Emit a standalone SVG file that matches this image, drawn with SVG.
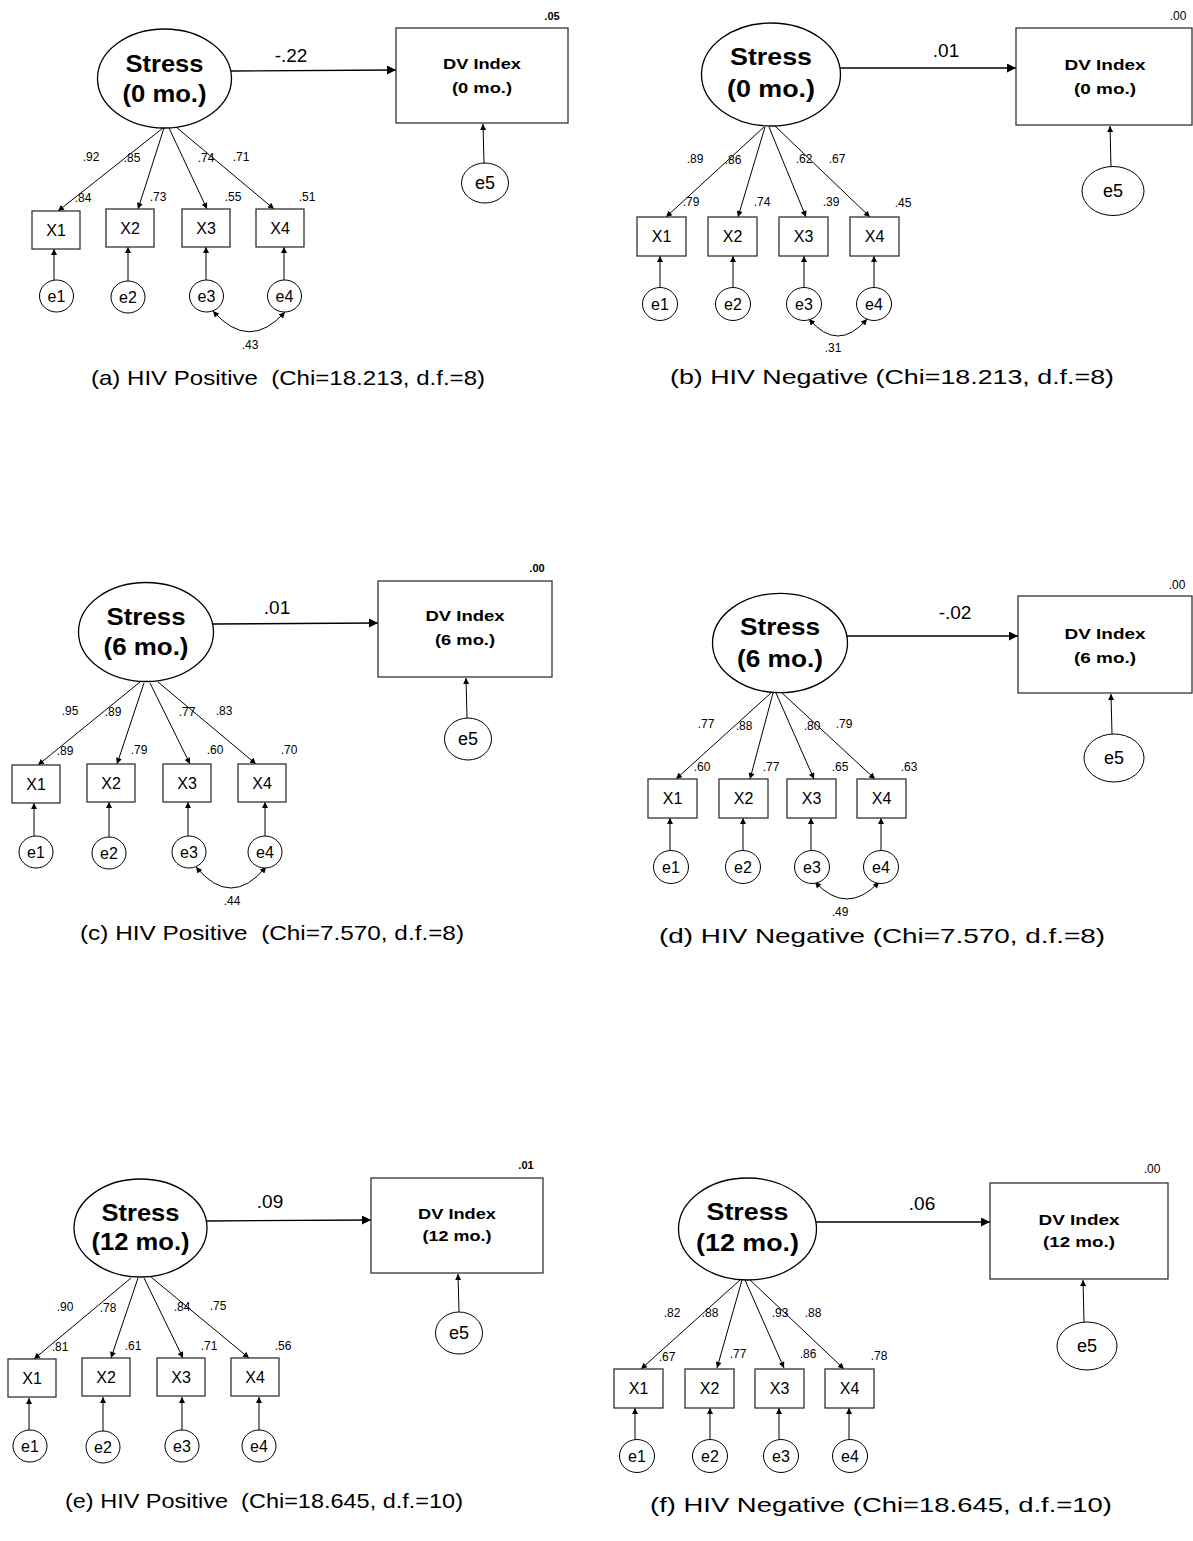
<svg xmlns="http://www.w3.org/2000/svg" width="1193" height="1541" viewBox="0 0 1193 1541">
<style>
text{font-family:"Liberation Sans",Arial,sans-serif;fill:#000;text-anchor:middle}
.st{font-size:23px;font-weight:bold}
.dv{font-size:15px;font-weight:bold}
.v{font-size:16px}
.e5{font-size:18px}
.s{font-size:12px}
.sb{font-size:11px;font-weight:bold}
.p{font-size:19px}
.cap{font-size:21px}
.lat{fill:#fff;stroke:#000;stroke-width:1.3}
.box{fill:#fff;stroke:#333;stroke-width:1.3}
.err{fill:#fff;stroke:#000;stroke-width:1}
.c line,.c path{stroke:#000;stroke-width:1;fill:none}
.c line.m{stroke-width:1.3}
</style>
<defs>
<marker id="a" viewBox="0 0 10 10" refX="10" refY="5" markerWidth="8" markerHeight="6" markerUnits="userSpaceOnUse" orient="auto-start-reverse"><path d="M0,0L10,5L0,10z" fill="#000" stroke="none"/></marker>
<marker id="A" viewBox="0 0 10 10" refX="10" refY="5" markerWidth="13" markerHeight="9" markerUnits="userSpaceOnUse" orient="auto"><path d="M0,0L10,5L0,10z" fill="#000" stroke="none"/></marker>
</defs>

<!-- ===== Panel (a) ===== -->
<g id="a-connectors" class="c">
<line class="m" x1="231" y1="71" x2="396" y2="70" marker-end="url(#A)"/>
<line x1="484" y1="163" x2="483" y2="124" marker-end="url(#a)"/>
<line x1="163" y1="128" x2="58" y2="211" marker-end="url(#a)"/>
<line x1="164" y1="128" x2="138" y2="209" marker-end="url(#a)"/>
<line x1="169" y1="128" x2="207" y2="209" marker-end="url(#a)"/>
<line x1="176" y1="127" x2="274" y2="209" marker-end="url(#a)"/>
<line x1="54" y1="280" x2="54" y2="249" marker-end="url(#a)"/>
<line x1="128" y1="281" x2="128" y2="247" marker-end="url(#a)"/>
<line x1="206" y1="280" x2="206" y2="247" marker-end="url(#a)"/>
<line x1="284" y1="280" x2="284" y2="247" marker-end="url(#a)"/>
<path d="M213,311 Q249,352 285,312" marker-start="url(#a)" marker-end="url(#a)"/>
</g>
<g id="a-labels">
<text class="p" x="291" y="62">-.22</text>
<text class="sb" x="552" y="20">.05</text>
<text class="s" x="91" y="161">.92</text>
<text class="s" x="132" y="162">.85</text>
<text class="s" x="206" y="162">.74</text>
<text class="s" x="241" y="161">.71</text>
<text class="s" x="83" y="202">.84</text>
<text class="s" x="158" y="201">.73</text>
<text class="s" x="233" y="201">.55</text>
<text class="s" x="307" y="201">.51</text>
<text class="s" x="250" y="349">.43</text>
<text class="cap" x="288" y="385" textLength="394" lengthAdjust="spacingAndGlyphs" xml:space="preserve">(a) HIV Positive  (Chi=18.213, d.f.=8)</text>
</g>
<g id="a-stress"><ellipse class="lat" cx="164.5" cy="78.5" rx="67" ry="49.5"/>
<text class="st" x="164.5" y="72" textLength="78" lengthAdjust="spacingAndGlyphs">Stress</text>
<text class="st" x="164.5" y="102" textLength="84" lengthAdjust="spacingAndGlyphs">(0 mo.)</text></g>
<g id="a-dv"><rect class="box" x="396" y="28" width="172" height="95"/>
<text class="dv" x="482" y="69" textLength="78" lengthAdjust="spacingAndGlyphs">DV Index</text>
<text class="dv" x="482" y="93" textLength="60" lengthAdjust="spacingAndGlyphs">(0 mo.)</text></g>
<g id="a-e5"><ellipse class="err" cx="485" cy="183" rx="23.5" ry="20"/><text class="e5" x="485" y="189">e5</text></g>
<g id="a-x1"><rect class="box" x="32" y="211" width="48" height="38"/><text class="v" x="56" y="236">X1</text></g>
<g id="a-x2"><rect class="box" x="106" y="209" width="48" height="38"/><text class="v" x="130" y="234">X2</text></g>
<g id="a-x3"><rect class="box" x="182" y="209" width="48" height="38"/><text class="v" x="206" y="234">X3</text></g>
<g id="a-x4"><rect class="box" x="256" y="209" width="48" height="38"/><text class="v" x="280" y="234">X4</text></g>
<g id="a-e1"><ellipse class="err" cx="56.5" cy="296" rx="17" ry="16"/><text class="v" x="56.5" y="302">e1</text></g>
<g id="a-e2"><ellipse class="err" cx="128" cy="297" rx="17" ry="16"/><text class="v" x="128" y="303">e2</text></g>
<g id="a-e3"><ellipse class="err" cx="206.5" cy="296" rx="17" ry="16"/><text class="v" x="206.5" y="302">e3</text></g>
<g id="a-e4"><ellipse class="err" cx="284.5" cy="296" rx="17" ry="16"/><text class="v" x="284.5" y="302">e4</text></g>

<!-- ===== Panel (b) ===== -->
<g id="b-connectors" class="c">
<line class="m" x1="840" y1="68" x2="1016" y2="68" marker-end="url(#A)"/>
<line x1="1111" y1="167" x2="1110" y2="126" marker-end="url(#a)"/>
<line x1="764" y1="127" x2="666" y2="217" marker-end="url(#a)"/>
<line x1="765" y1="127" x2="738" y2="217" marker-end="url(#a)"/>
<line x1="769" y1="127" x2="806" y2="217" marker-end="url(#a)"/>
<line x1="775" y1="126" x2="870" y2="217" marker-end="url(#a)"/>
<line x1="660" y1="288" x2="660" y2="256" marker-end="url(#a)"/>
<line x1="733" y1="288" x2="733" y2="256" marker-end="url(#a)"/>
<line x1="804" y1="288" x2="804" y2="256" marker-end="url(#a)"/>
<line x1="874" y1="288" x2="874" y2="256" marker-end="url(#a)"/>
<path d="M809,319 Q838,353 867,319" marker-start="url(#a)" marker-end="url(#a)"/>
</g>
<g id="b-labels">
<text class="p" x="946" y="57">.01</text>
<text class="s" x="1178" y="20">.00</text>
<text class="s" x="695" y="163">.89</text>
<text class="s" x="733" y="164">.86</text>
<text class="s" x="804" y="163">.62</text>
<text class="s" x="837" y="163">.67</text>
<text class="s" x="691" y="206">.79</text>
<text class="s" x="762" y="206">.74</text>
<text class="s" x="831" y="206">.39</text>
<text class="s" x="903" y="207">.45</text>
<text class="s" x="833" y="352">.31</text>
<text class="cap" x="892" y="384" textLength="444" lengthAdjust="spacingAndGlyphs">(b) HIV Negative (Chi=18.213, d.f.=8)</text>
</g>
<g id="b-stress"><ellipse class="lat" cx="771" cy="74.5" rx="69.5" ry="51.5"/>
<text class="st" x="771" y="65" textLength="82" lengthAdjust="spacingAndGlyphs">Stress</text>
<text class="st" x="771" y="97" textLength="88" lengthAdjust="spacingAndGlyphs">(0 mo.)</text></g>
<g id="b-dv"><rect class="box" x="1016" y="28" width="176" height="97"/>
<text class="dv" x="1105" y="70" textLength="81" lengthAdjust="spacingAndGlyphs">DV Index</text>
<text class="dv" x="1105" y="94" textLength="62" lengthAdjust="spacingAndGlyphs">(0 mo.)</text></g>
<g id="b-e5"><ellipse class="err" cx="1113" cy="191" rx="31" ry="24.5"/><text class="e5" x="1113" y="197">e5</text></g>
<g id="b-x1"><rect class="box" x="637" y="217" width="49" height="39"/><text class="v" x="661.5" y="242">X1</text></g>
<g id="b-x2"><rect class="box" x="708" y="217" width="49" height="39"/><text class="v" x="732.5" y="242">X2</text></g>
<g id="b-x3"><rect class="box" x="779" y="217" width="49" height="39"/><text class="v" x="803.5" y="242">X3</text></g>
<g id="b-x4"><rect class="box" x="850" y="217" width="49" height="39"/><text class="v" x="874.5" y="242">X4</text></g>
<g id="b-e1"><ellipse class="err" cx="660" cy="304" rx="17.5" ry="16.5"/><text class="v" x="660" y="310">e1</text></g>
<g id="b-e2"><ellipse class="err" cx="733" cy="304" rx="17.5" ry="16.5"/><text class="v" x="733" y="310">e2</text></g>
<g id="b-e3"><ellipse class="err" cx="804" cy="304" rx="17.5" ry="16.5"/><text class="v" x="804" y="310">e3</text></g>
<g id="b-e4"><ellipse class="err" cx="874" cy="304" rx="17.5" ry="16.5"/><text class="v" x="874" y="310">e4</text></g>

<!-- ===== Panel (c) ===== -->
<g id="c-connectors" class="c">
<line class="m" x1="213" y1="624" x2="378" y2="623" marker-end="url(#A)"/>
<line x1="467" y1="718" x2="466" y2="678" marker-end="url(#a)"/>
<line x1="140" y1="682" x2="38" y2="765" marker-end="url(#a)"/>
<line x1="144" y1="683" x2="117" y2="764" marker-end="url(#a)"/>
<line x1="150" y1="683" x2="190" y2="764" marker-end="url(#a)"/>
<line x1="158" y1="682" x2="256" y2="764" marker-end="url(#a)"/>
<line x1="34" y1="836" x2="34" y2="803" marker-end="url(#a)"/>
<line x1="109" y1="837" x2="109" y2="802" marker-end="url(#a)"/>
<line x1="188" y1="836" x2="188" y2="802" marker-end="url(#a)"/>
<line x1="265" y1="836" x2="265" y2="802" marker-end="url(#a)"/>
<path d="M196,867 Q231,909 266,867" marker-start="url(#a)" marker-end="url(#a)"/>
</g>
<g id="c-labels">
<text class="p" x="277" y="614">.01</text>
<text class="sb" x="537" y="572">.00</text>
<text class="s" x="70" y="715">.95</text>
<text class="s" x="113" y="716">.89</text>
<text class="s" x="187" y="716">.77</text>
<text class="s" x="224" y="715">.83</text>
<text class="s" x="65" y="755">.89</text>
<text class="s" x="139" y="754">.79</text>
<text class="s" x="215" y="754">.60</text>
<text class="s" x="289" y="754">.70</text>
<text class="s" x="232" y="905">.44</text>
<text class="cap" x="272" y="940" textLength="384" lengthAdjust="spacingAndGlyphs" xml:space="preserve">(c) HIV Positive  (Chi=7.570, d.f.=8)</text>
</g>
<g id="c-stress"><ellipse class="lat" cx="146" cy="632" rx="67.5" ry="49.5"/>
<text class="st" x="146" y="625" textLength="79" lengthAdjust="spacingAndGlyphs">Stress</text>
<text class="st" x="146" y="655" textLength="85" lengthAdjust="spacingAndGlyphs">(6 mo.)</text></g>
<g id="c-dv"><rect class="box" x="378" y="581" width="174" height="96"/>
<text class="dv" x="465" y="621" textLength="79" lengthAdjust="spacingAndGlyphs">DV Index</text>
<text class="dv" x="465" y="645" textLength="60" lengthAdjust="spacingAndGlyphs">(6 mo.)</text></g>
<g id="c-e5"><ellipse class="err" cx="468" cy="739" rx="23.5" ry="21"/><text class="e5" x="468" y="745">e5</text></g>
<g id="c-x1"><rect class="box" x="12" y="765" width="48" height="38"/><text class="v" x="36" y="790">X1</text></g>
<g id="c-x2"><rect class="box" x="87" y="764" width="48" height="38"/><text class="v" x="111" y="789">X2</text></g>
<g id="c-x3"><rect class="box" x="163" y="764" width="48" height="38"/><text class="v" x="187" y="789">X3</text></g>
<g id="c-x4"><rect class="box" x="238" y="764" width="48" height="38"/><text class="v" x="262" y="789">X4</text></g>
<g id="c-e1"><ellipse class="err" cx="36" cy="852" rx="17" ry="16"/><text class="v" x="36" y="858">e1</text></g>
<g id="c-e2"><ellipse class="err" cx="109" cy="853" rx="17" ry="16"/><text class="v" x="109" y="859">e2</text></g>
<g id="c-e3"><ellipse class="err" cx="189" cy="852" rx="17" ry="16"/><text class="v" x="189" y="858">e3</text></g>
<g id="c-e4"><ellipse class="err" cx="265" cy="852" rx="17" ry="16"/><text class="v" x="265" y="858">e4</text></g>

<!-- ===== Panel (d) ===== -->
<g id="d-connectors" class="c">
<line class="m" x1="847" y1="636" x2="1018" y2="636" marker-end="url(#A)"/>
<line x1="1112" y1="734" x2="1111" y2="694" marker-end="url(#a)"/>
<line x1="772" y1="692" x2="676" y2="779" marker-end="url(#a)"/>
<line x1="773" y1="693" x2="750" y2="779" marker-end="url(#a)"/>
<line x1="776" y1="693" x2="814" y2="779" marker-end="url(#a)"/>
<line x1="781" y1="692" x2="875" y2="779" marker-end="url(#a)"/>
<line x1="670" y1="851" x2="670" y2="818" marker-end="url(#a)"/>
<line x1="743" y1="851" x2="743" y2="818" marker-end="url(#a)"/>
<line x1="811" y1="851" x2="811" y2="818" marker-end="url(#a)"/>
<line x1="881" y1="851" x2="881" y2="818" marker-end="url(#a)"/>
<path d="M815,882 Q847,916 879,882" marker-start="url(#a)" marker-end="url(#a)"/>
</g>
<g id="d-labels">
<text class="p" x="955" y="619">-.02</text>
<text class="s" x="1177" y="589">.00</text>
<text class="s" x="706" y="728">.77</text>
<text class="s" x="744" y="730">.88</text>
<text class="s" x="812" y="730">.80</text>
<text class="s" x="844" y="728">.79</text>
<text class="s" x="702" y="771">.60</text>
<text class="s" x="771" y="771">.77</text>
<text class="s" x="840" y="771">.65</text>
<text class="s" x="909" y="771">.63</text>
<text class="s" x="840" y="916">.49</text>
<text class="cap" x="882" y="943" textLength="446" lengthAdjust="spacingAndGlyphs">(d) HIV Negative (Chi=7.570, d.f.=8)</text>
</g>
<g id="d-stress"><ellipse class="lat" cx="780" cy="643" rx="67.5" ry="49.7"/>
<text class="st" x="780" y="635" textLength="80" lengthAdjust="spacingAndGlyphs">Stress</text>
<text class="st" x="780" y="667" textLength="86" lengthAdjust="spacingAndGlyphs">(6 mo.)</text></g>
<g id="d-dv"><rect class="box" x="1018" y="596" width="174" height="97"/>
<text class="dv" x="1105" y="639" textLength="81" lengthAdjust="spacingAndGlyphs">DV Index</text>
<text class="dv" x="1105" y="663" textLength="62" lengthAdjust="spacingAndGlyphs">(6 mo.)</text></g>
<g id="d-e5"><ellipse class="err" cx="1114" cy="758" rx="30" ry="24"/><text class="e5" x="1114" y="764">e5</text></g>
<g id="d-x1"><rect class="box" x="648" y="779" width="49" height="39"/><text class="v" x="672.5" y="804">X1</text></g>
<g id="d-x2"><rect class="box" x="719" y="779" width="49" height="39"/><text class="v" x="743.5" y="804">X2</text></g>
<g id="d-x3"><rect class="box" x="787" y="779" width="49" height="39"/><text class="v" x="811.5" y="804">X3</text></g>
<g id="d-x4"><rect class="box" x="857" y="779" width="49" height="39"/><text class="v" x="881.5" y="804">X4</text></g>
<g id="d-e1"><ellipse class="err" cx="671" cy="867" rx="17.5" ry="16.5"/><text class="v" x="671" y="873">e1</text></g>
<g id="d-e2"><ellipse class="err" cx="743" cy="867" rx="17.5" ry="16.5"/><text class="v" x="743" y="873">e2</text></g>
<g id="d-e3"><ellipse class="err" cx="812" cy="867" rx="17.5" ry="16.5"/><text class="v" x="812" y="873">e3</text></g>
<g id="d-e4"><ellipse class="err" cx="881" cy="867" rx="17.5" ry="16.5"/><text class="v" x="881" y="873">e4</text></g>

<!-- ===== Panel (e) ===== -->
<g id="e-connectors" class="c">
<line class="m" x1="207" y1="1221" x2="371" y2="1220" marker-end="url(#A)"/>
<line x1="459" y1="1312" x2="458" y2="1274" marker-end="url(#a)"/>
<line x1="131" y1="1278" x2="34" y2="1359" marker-end="url(#a)"/>
<line x1="138" y1="1278" x2="111" y2="1358" marker-end="url(#a)"/>
<line x1="144" y1="1278" x2="183" y2="1358" marker-end="url(#a)"/>
<line x1="151" y1="1277" x2="249" y2="1358" marker-end="url(#a)"/>
<line x1="29" y1="1430" x2="29" y2="1398" marker-end="url(#a)"/>
<line x1="103" y1="1431" x2="103" y2="1397" marker-end="url(#a)"/>
<line x1="182" y1="1430" x2="182" y2="1397" marker-end="url(#a)"/>
<line x1="259" y1="1430" x2="259" y2="1397" marker-end="url(#a)"/>
</g>
<g id="e-labels">
<text class="p" x="270" y="1208">.09</text>
<text class="sb" x="526" y="1169">.01</text>
<text class="s" x="65" y="1311">.90</text>
<text class="s" x="108" y="1312">.78</text>
<text class="s" x="182" y="1311">.84</text>
<text class="s" x="218" y="1310">.75</text>
<text class="s" x="60" y="1351">.81</text>
<text class="s" x="133" y="1350">.61</text>
<text class="s" x="209" y="1350">.71</text>
<text class="s" x="283" y="1350">.56</text>
<text class="cap" x="264" y="1508" textLength="398" lengthAdjust="spacingAndGlyphs" xml:space="preserve">(e) HIV Positive  (Chi=18.645, d.f.=10)</text>
</g>
<g id="e-stress"><ellipse class="lat" cx="140.5" cy="1228" rx="66.5" ry="49"/>
<text class="st" x="140.5" y="1221" textLength="78" lengthAdjust="spacingAndGlyphs">Stress</text>
<text class="st" x="140.5" y="1250" textLength="98" lengthAdjust="spacingAndGlyphs">(12 mo.)</text></g>
<g id="e-dv"><rect class="box" x="371" y="1178" width="172" height="95"/>
<text class="dv" x="457" y="1219" textLength="78" lengthAdjust="spacingAndGlyphs">DV Index</text>
<text class="dv" x="457" y="1241" textLength="69" lengthAdjust="spacingAndGlyphs">(12 mo.)</text></g>
<g id="e-e5"><ellipse class="err" cx="459" cy="1333" rx="23.5" ry="21"/><text class="e5" x="459" y="1339">e5</text></g>
<g id="e-x1"><rect class="box" x="8" y="1359" width="48" height="38"/><text class="v" x="32" y="1384">X1</text></g>
<g id="e-x2"><rect class="box" x="82" y="1358" width="48" height="38"/><text class="v" x="106" y="1383">X2</text></g>
<g id="e-x3"><rect class="box" x="157" y="1358" width="48" height="38"/><text class="v" x="181" y="1383">X3</text></g>
<g id="e-x4"><rect class="box" x="231" y="1358" width="48" height="38"/><text class="v" x="255" y="1383">X4</text></g>
<g id="e-e1"><ellipse class="err" cx="30" cy="1446" rx="17" ry="16"/><text class="v" x="30" y="1452">e1</text></g>
<g id="e-e2"><ellipse class="err" cx="103" cy="1447" rx="17" ry="16"/><text class="v" x="103" y="1453">e2</text></g>
<g id="e-e3"><ellipse class="err" cx="182" cy="1446" rx="17" ry="16"/><text class="v" x="182" y="1452">e3</text></g>
<g id="e-e4"><ellipse class="err" cx="259" cy="1446" rx="17" ry="16"/><text class="v" x="259" y="1452">e4</text></g>

<!-- ===== Panel (f) ===== -->
<g id="f-connectors" class="c">
<line class="m" x1="816" y1="1222" x2="990" y2="1222" marker-end="url(#A)"/>
<line x1="1084" y1="1322" x2="1083" y2="1280" marker-end="url(#a)"/>
<line x1="740" y1="1280" x2="641" y2="1369" marker-end="url(#a)"/>
<line x1="742" y1="1280" x2="717" y2="1368" marker-end="url(#a)"/>
<line x1="745" y1="1280" x2="784" y2="1368" marker-end="url(#a)"/>
<line x1="749" y1="1279" x2="844" y2="1369" marker-end="url(#a)"/>
<line x1="635" y1="1440" x2="635" y2="1408" marker-end="url(#a)"/>
<line x1="710" y1="1440" x2="710" y2="1408" marker-end="url(#a)"/>
<line x1="779" y1="1440" x2="779" y2="1408" marker-end="url(#a)"/>
<line x1="849" y1="1440" x2="849" y2="1408" marker-end="url(#a)"/>
</g>
<g id="f-labels">
<text class="p" x="922" y="1210">.06</text>
<text class="s" x="1152" y="1173">.00</text>
<text class="s" x="672" y="1317">.82</text>
<text class="s" x="710" y="1317">.88</text>
<text class="s" x="780" y="1317">.93</text>
<text class="s" x="813" y="1317">.88</text>
<text class="s" x="667" y="1361">.67</text>
<text class="s" x="738" y="1358">.77</text>
<text class="s" x="808" y="1358">.86</text>
<text class="s" x="879" y="1360">.78</text>
<text class="cap" x="881" y="1512" textLength="462" lengthAdjust="spacingAndGlyphs">(f) HIV Negative (Chi=18.645, d.f.=10)</text>
</g>
<g id="f-stress"><ellipse class="lat" cx="747.5" cy="1229" rx="69" ry="51"/>
<text class="st" x="747.5" y="1220" textLength="82" lengthAdjust="spacingAndGlyphs">Stress</text>
<text class="st" x="747.5" y="1251" textLength="103" lengthAdjust="spacingAndGlyphs">(12 mo.)</text></g>
<g id="f-dv"><rect class="box" x="990" y="1183" width="178" height="96"/>
<text class="dv" x="1079" y="1225" textLength="81" lengthAdjust="spacingAndGlyphs">DV Index</text>
<text class="dv" x="1079" y="1247" textLength="72" lengthAdjust="spacingAndGlyphs">(12 mo.)</text></g>
<g id="f-e5"><ellipse class="err" cx="1087" cy="1346" rx="30" ry="24"/><text class="e5" x="1087" y="1352">e5</text></g>
<g id="f-x1"><rect class="box" x="614" y="1369" width="49" height="39"/><text class="v" x="638.5" y="1394">X1</text></g>
<g id="f-x2"><rect class="box" x="685" y="1369" width="49" height="39"/><text class="v" x="709.5" y="1394">X2</text></g>
<g id="f-x3"><rect class="box" x="755" y="1369" width="49" height="39"/><text class="v" x="779.5" y="1394">X3</text></g>
<g id="f-x4"><rect class="box" x="825" y="1369" width="49" height="39"/><text class="v" x="849.5" y="1394">X4</text></g>
<g id="f-e1"><ellipse class="err" cx="637" cy="1456" rx="17.5" ry="16.5"/><text class="v" x="637" y="1462">e1</text></g>
<g id="f-e2"><ellipse class="err" cx="710" cy="1456" rx="17.5" ry="16.5"/><text class="v" x="710" y="1462">e2</text></g>
<g id="f-e3"><ellipse class="err" cx="781" cy="1456" rx="17.5" ry="16.5"/><text class="v" x="781" y="1462">e3</text></g>
<g id="f-e4"><ellipse class="err" cx="850" cy="1456" rx="17.5" ry="16.5"/><text class="v" x="850" y="1462">e4</text></g>
</svg>
